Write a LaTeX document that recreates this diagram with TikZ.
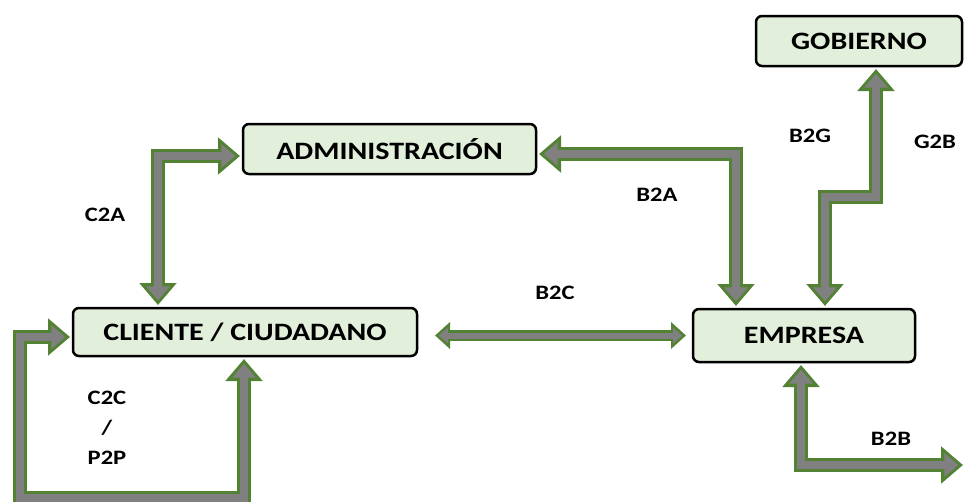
\documentclass[tikz,border=0pt]{standalone}
\usepackage{fontspec}
\setmainfont{Carlito}[FakeStretch=1.2]
\usetikzlibrary{arrows.meta,calc}

\definecolor{boxfill}{HTML}{E2EFDA}
\definecolor{arrowline}{HTML}{548235}
\definecolor{arrowbody}{HTML}{808080}

\tikzset{
  entity/.style={draw=black, line width=2.5pt, fill=boxfill, rounded corners=6pt,
    outer sep=3pt, font=\fontsize{25}{27}\selectfont\bfseries},
  barrow/.style={draw=arrowbody, line width=8pt, line join=miter,
    {Triangle[width=23pt,length=14pt]}-{Triangle[width=23pt,length=14pt]},
    shorten <=4.7pt, shorten >=4.7pt,
    preaction={draw=arrowline, line width=14pt, line join=miter,
      shorten <=0pt, shorten >=0pt,
      {Triangle[width=36pt,length=22pt]}-{Triangle[width=36pt,length=22pt]}}},
  barrow small/.style={draw=arrowbody, line width=6pt, line join=miter,
    {Triangle[width=15pt,length=9pt]}-{Triangle[width=15pt,length=9pt]},
    shorten <=3.8pt, shorten >=3.8pt,
    preaction={draw=arrowline, line width=11pt, line join=miter,
      shorten <=0pt, shorten >=0pt,
      {Triangle[width=26pt,length=15pt]}-{Triangle[width=26pt,length=15pt]}}},
  tag/.style={font=\fontsize{20.5}{30}\selectfont\bfseries, align=center}
}

\begin{document}
\begin{tikzpicture}[x=1pt,y=-1pt]
  \useasboundingbox (0,0) rectangle (966,501);

  %% entities
  \node[entity, minimum width=293pt, minimum height=50pt] (adm) at (389.5,149) {ADMINISTRACIÓN};
  \node[entity, minimum width=344pt, minimum height=48pt] (cli) at (245,332) {CLIENTE / CIUDADANO};
  \node[entity, minimum width=222pt, minimum height=53pt] (emp) at (804,335.5) {EMPRESA};
  \node[entity, minimum width=206pt, minimum height=50pt] (gob) at (859,41) {GOBIERNO};

  %% bend points
  \coordinate (c2a) at (158,156);
  \coordinate (b2a) at (736,154);
  \coordinate (g1) at (825,197);
  \coordinate (g2) at (876,197);
  \coordinate (b2b) at (963,465);
  \coordinate (p1) at (20,498);
  \coordinate (p2) at (244,498);

  %% relations
  \draw[barrow] (cli.north -| c2a) |- ([yshift=-7pt]adm.west); %% C2A
  \draw[barrow] ([yshift=-5pt]adm.east) -| (emp.north -| b2a); %% B2A
  \draw[barrow small] ($(cli.east |- emp.west)+(15,0)$) -- ([xshift=-4pt]emp.west); %% B2C
  \draw[barrow] (emp.north -| g1) -- (g1) -- (g2) -- (gob.south -| g2); %% B2G / G2B
  \draw[barrow] ([xshift=-3pt]emp.south) |- (b2b); %% B2B
  \draw[barrow] ([yshift=-5pt]cli.west) -| (p1) -- (p2) -- (cli.south -| p2); %% C2C

  %% labels
  \node[tag] (lc2a) at (105,215) {C2A};
  \node[tag] (lb2a) at (657,195) {B2A};
  \node[tag] (lb2c) at (555,293) {B2C};
  \node[tag] (lb2g) at (810,136) {B2G};
  \node[tag] (lg2b) at (935,142) {G2B};
  \node[tag] (lb2b) at (891,439) {B2B};
  \node[tag] (lc2c) at (107,428) {C2C\\/\\P2P};
\end{tikzpicture}
\end{document}
